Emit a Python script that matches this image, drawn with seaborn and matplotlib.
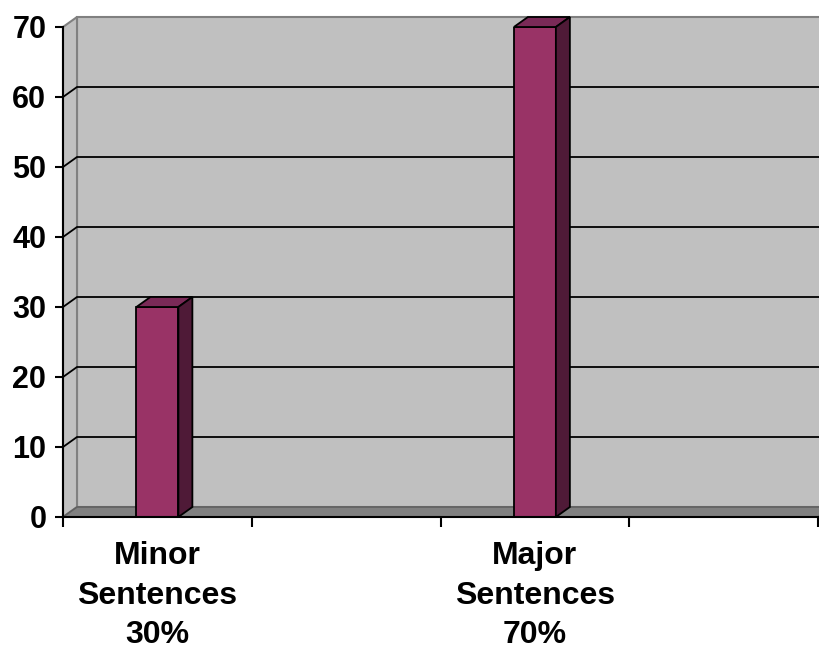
import matplotlib
matplotlib.use("Agg")
import matplotlib.pyplot as plt
import seaborn as sns
import pandas as pd
from matplotlib.patches import Polygon

# ---- data ----
categories = ["Minor Sentences", "Major Sentences"]
values = [30, 70]
cat_labels = ["Minor\nSentences\n30%", "Major\nSentences\n70%"]
slot_order = ["Minor Sentences", "gap1", "Major Sentences", "gap2"]
y_ticks = [0, 10, 20, 30, 40, 50, 60, 70]

sns.set_style("white")
plt.rcParams['font.family'] = ['Liberation Sans', 'DejaVu Sans']
plt.rcParams['text.color'] = 'black'
plt.rcParams['xtick.color'] = 'black'
plt.rcParams['ytick.color'] = 'black'

W, H = 819, 650
fig = plt.figure(figsize=(W / 100, H / 100), dpi=100)
ax = fig.add_axes([63 / W, 133 / H, 755 / W, 490 / H])
ax.set_facecolor("none")

df = pd.DataFrame({"cat": categories, "val": values})
sns.barplot(data=df, x="cat", y="val", order=slot_order, color="#993366",
            saturation=1, width=0.2225, edgecolor="black", linewidth=1.3,
            ax=ax, zorder=6)

ax.set_xlim(-0.5, 3.5)
ax.set_ylim(0, 70)

# depth offset in data units
dx = 14 * 4 / 755
dy = 10 * 70 / 490
x0, x1 = -0.5, 3.5
ytop = 70

wall_c = "#c0c0c0"
edge_c = "#808080"

# back wall
ax.add_patch(Polygon([(x0 + dx, dy), (x1 + dx, dy), (x1 + dx, ytop + dy), (x0 + dx, ytop + dy)],
                     closed=True, facecolor=wall_c, edgecolor=edge_c, lw=1.5, clip_on=False, zorder=1))
# left wall
ax.add_patch(Polygon([(x0, 0), (x0, ytop), (x0 + dx, ytop + dy), (x0 + dx, dy)],
                     closed=True, facecolor=wall_c, edgecolor=edge_c, lw=1.5, clip_on=False, zorder=1))
# floor
ax.add_patch(Polygon([(x0, 0), (x1, 0), (x1 + dx, dy), (x0 + dx, dy)],
                     closed=True, facecolor="#808080", edgecolor="#606060", lw=1.2, clip_on=False, zorder=2))

# gridlines
for v in y_ticks[1:-1]:
    ax.plot([x0, x0 + dx, x1 + dx], [v, v + dy, v + dy], color="black", lw=1.3,
            clip_on=False, zorder=3, solid_capstyle="butt")

# 3D faces for bars
for p in list(ax.containers[0]):
    bx, bw, bh = p.get_x(), p.get_width(), p.get_height()
    if not bh > 0:
        continue
    top = Polygon([(bx, bh), (bx + bw, bh), (bx + bw + dx, bh + dy), (bx + dx, bh + dy)],
                  closed=True, facecolor="#7a2a57", edgecolor="black", lw=1.3, clip_on=False, zorder=6)
    side = Polygon([(bx + bw, 0), (bx + bw, bh), (bx + bw + dx, bh + dy), (bx + bw + dx, dy)],
                   closed=True, facecolor="#4f1a37", edgecolor="black", lw=1.3, clip_on=False, zorder=6)
    ax.add_patch(top)
    ax.add_patch(side)

# spines
for s in ["top", "right"]:
    ax.spines[s].set_visible(False)
for s in ["left", "bottom"]:
    ax.spines[s].set_visible(True)
    ax.spines[s].set_color("black")
    ax.spines[s].set_linewidth(1.5)
    ax.spines[s].set_zorder(7)

# ticks
ax.set_yticks(y_ticks)
ax.set_yticklabels([str(v) for v in y_ticks], fontsize=22, fontweight="bold", color="black")
ax.tick_params(axis="y", direction="out", length=6, width=1.5, color="black", pad=6, left=True)

ax.set_xticks([-0.5, 0.5, 1.5, 2.5, 3.5])
ax.set_xticklabels([""] * 5)
ax.tick_params(axis="x", which="major", direction="out", length=7, width=1.5, color="black", bottom=True)
ax.set_xticks([0, 2], minor=True)
ax.set_xticklabels(cat_labels, minor=True, fontsize=23, fontweight="bold", linespacing=1.43, color="black")
ax.tick_params(axis="x", which="minor", length=0, pad=17)
ax.set_xlabel("")
ax.set_ylabel("")
ax.grid(False)

fig.savefig("out.png", dpi=100)
